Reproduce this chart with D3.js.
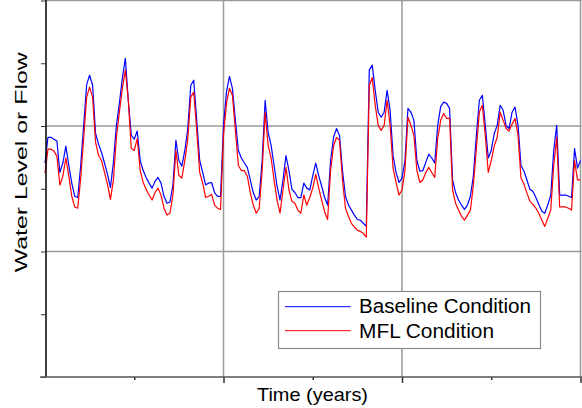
<!DOCTYPE html>
<html><head><meta charset="utf-8">
<script src="https://cdn.jsdelivr.net/npm/d3@7"></script>
<style>html,body{margin:0;padding:0;background:#fff;} svg{display:block;}</style>
</head><body>
<svg id="chart" width="582" height="408"></svg>
<script>
// Monthly values, 181 points (15 years), arbitrary units on a 0-60 scale
const baseline = [
34.1,38.2,38.2,37.9,37.6,32.6,34.1,36.8,33.7,30.9,28.8,28.6,33.7,40.1,46.6,48.1,46.5,38.8,37.1,35.8,
34.1,32.3,30.2,34.2,40.1,43.6,47.6,50.8,44.1,38.5,37.9,39.2,34.5,32.9,31.8,30.9,30.1,31.2,31.8,30.9,
28.8,27.7,27.9,30.6,37.7,34.5,33.6,36.1,39.6,46.5,47.3,40.9,34.5,32.6,30.6,30.9,31.0,29.4,28.8,28.8,
40.1,45.4,47.9,46.0,40.9,36.1,34.9,34.1,33.4,31.4,29.4,28.2,28.8,34.5,44.1,39.0,36.9,33.7,30.4,28.2,
31.4,35.3,32.9,29.9,29.4,28.6,28.6,30.9,30.1,29.8,32.1,34.1,32.1,30.4,28.6,27.4,34.5,38.2,39.6,38.5,
32.9,28.8,27.4,26.6,25.8,25.1,25.0,24.5,24.0,48.9,49.7,45.7,42.2,41.4,42.2,45.7,42.5,35.3,32.6,31.0,
31.7,34.5,42.8,42.2,40.9,34.5,32.8,32.9,34.2,35.5,34.9,34.1,40.1,43.1,43.8,43.6,42.8,31.4,29.4,28.2,
27.4,26.7,27.4,28.8,32.1,38.5,44.1,44.9,40.1,34.9,36.1,38.8,40.1,43.3,42.5,40.0,39.6,42.2,43.0,40.1,
33.7,32.8,31.4,29.9,29.6,28.6,27.5,26.4,26.1,27.4,29.0,36.1,40.1,29.0,29.0,29.0,28.8,28.6,36.4,33.3,
34.5
];
const mfl = [
32.5,36.3,36.3,36.0,35.2,30.6,32.0,34.9,32.0,28.8,27.1,26.9,31.7,38.0,44.6,46.2,44.6,37.4,35.3,34.5,
32.6,30.7,28.3,31.4,38.2,42.2,46.0,48.9,44.1,36.4,36.1,38.0,32.9,31.0,29.9,29.0,28.2,29.4,30.1,29.0,
26.9,25.8,26.1,29.0,36.1,32.1,31.7,34.5,38.0,44.6,45.4,39.3,32.6,30.9,28.6,28.8,29.1,27.4,26.9,26.7,
38.5,43.6,46.0,44.9,39.3,33.7,32.9,32.9,32.0,29.4,27.4,26.1,26.9,32.9,42.2,36.9,34.9,31.4,28.2,26.1,
29.8,33.4,29.8,28.0,27.7,26.6,26.1,29.0,27.4,28.6,30.1,32.3,30.1,28.2,26.3,25.1,32.9,36.9,38.2,37.7,
31.4,26.9,25.6,24.5,23.9,23.4,23.2,22.9,22.3,46.5,47.7,43.3,40.1,39.3,40.1,44.1,40.1,33.3,31.0,29.0,
29.8,32.9,41.4,40.1,38.5,32.9,31.0,31.4,32.6,33.4,32.6,31.8,38.0,40.9,42.0,41.2,41.2,29.8,27.7,26.6,
25.6,25.0,25.8,26.6,30.6,36.4,42.2,43.3,38.5,32.6,34.5,36.8,38.2,42.2,40.9,39.6,39.2,40.3,41.2,38.5,
31.7,30.7,29.3,28.0,27.5,26.9,26.1,25.0,24.0,25.3,26.6,33.7,38.2,27.1,27.1,27.1,26.9,26.6,34.5,31.4,
31.4
];
const seriesNames = ["Baseline Condition", "MFL Condition"];
const seriesColors = ["#0000ff", "#ff0000"];
const yTicks = [0, 10, 20, 30, 40, 50, 60];
const yGrid = [20, 40, 60];
const xMajor = [60, 120, 180];
const xMinor = [30, 90, 150];
const xTitle = "Time (years)";
const yTitle = "Water Level or Flow";

const svg = d3.select("#chart");
const font = "'Liberation Sans', Arial, Helvetica, sans-serif";
const x = d3.scaleLinear().domain([0, 180]).range([45, 580.5]);
const y = d3.scaleLinear().domain([0, 60]).range([377, 0.5]);

svg.append("rect").attr("width", 582).attr("height", 408).attr("fill", "#fff");

// horizontal grid
svg.append("g").selectAll("line").data(yGrid).join("line")
  .attr("x1", 46).attr("x2", 581.5)
  .attr("y1", d => y(d)).attr("y2", d => y(d))
  .attr("stroke", "#9a9a9a").attr("stroke-width", 1.5);
// vertical grid
svg.append("g").selectAll("line").data(xMajor).join("line")
  .attr("x1", d => x(d)).attr("x2", d => x(d))
  .attr("y1", 0).attr("y2", 377)
  .attr("stroke", "#9a9a9a").attr("stroke-width", 1.5);

// lines
const line = d3.line().x((d, i) => x(i)).y(d => y(d));
[baseline, mfl].forEach((s, k) => {
  svg.append("path").datum(s).attr("d", line)
    .attr("fill", "none").attr("stroke", seriesColors[k])
    .attr("stroke-width", 1.2).attr("stroke-linejoin", "round");
});

// y axis
const yAxis = svg.append("g").attr("transform", "translate(46,0)")
  .call(d3.axisLeft(y).tickValues(yTicks).tickSize(5).tickFormat(""));
yAxis.select(".domain").attr("stroke", "#000").attr("stroke-width", 1.5).attr("d", "M0,0V377");
yAxis.selectAll(".tick line").attr("stroke", "#333").attr("stroke-width", 1);

// x axis
svg.append("g").attr("transform", "translate(0,377)")
  .call(d3.axisBottom(x).tickValues(xMajor).tickSize(6).tickFormat(""))
  .call(g => g.select(".domain").remove())
  .selectAll(".tick line").attr("stroke", "#333").attr("stroke-width", 1.5);
svg.append("g").attr("transform", "translate(0,377)")
  .call(d3.axisBottom(x).tickValues(xMinor).tickSize(3).tickFormat(""))
  .call(g => g.select(".domain").remove())
  .selectAll(".tick line").attr("stroke", "#333").attr("stroke-width", 1.5);
svg.append("line").attr("x1", 40).attr("x2", 582).attr("y1", 377).attr("y2", 377)
  .attr("stroke", "#555").attr("stroke-width", 1.5);

// titles
svg.append("text").attr("x", 312.5).attr("y", 401)
  .attr("text-anchor", "middle").attr("font-family", font).attr("font-size", 17.7)
  .attr("textLength", 111).attr("lengthAdjust", "spacingAndGlyphs").attr("fill", "#000")
  .text(xTitle);
svg.append("text").attr("transform", "translate(26.7,162.3) rotate(-90)")
  .attr("text-anchor", "middle").attr("font-family", font).attr("font-size", 16.3)
  .attr("textLength", 220).attr("lengthAdjust", "spacingAndGlyphs").attr("fill", "#000")
  .text(yTitle);

// legend
const lg = svg.append("g");
lg.append("rect").attr("x", 278.5).attr("y", 291.5).attr("width", 262).attr("height", 57)
  .attr("fill", "#fff").attr("stroke", "#8a8a8a").attr("stroke-width", 1.2);
const legY = [306.7, 330.7];
const legBase = [313.3, 338.3];
const legLen = [172, 135];
seriesNames.forEach((n, k) => {
  lg.append("line").attr("x1", 285).attr("x2", 350.7).attr("y1", legY[k]).attr("y2", legY[k])
    .attr("stroke", seriesColors[k]).attr("stroke-width", 1);
  lg.append("text").attr("x", 359).attr("y", legBase[k])
    .attr("font-family", font).attr("font-size", 20.5)
    .attr("textLength", legLen[k]).attr("lengthAdjust", "spacingAndGlyphs").attr("fill", "#000")
    .text(n);
});
</script>
</body></html>
